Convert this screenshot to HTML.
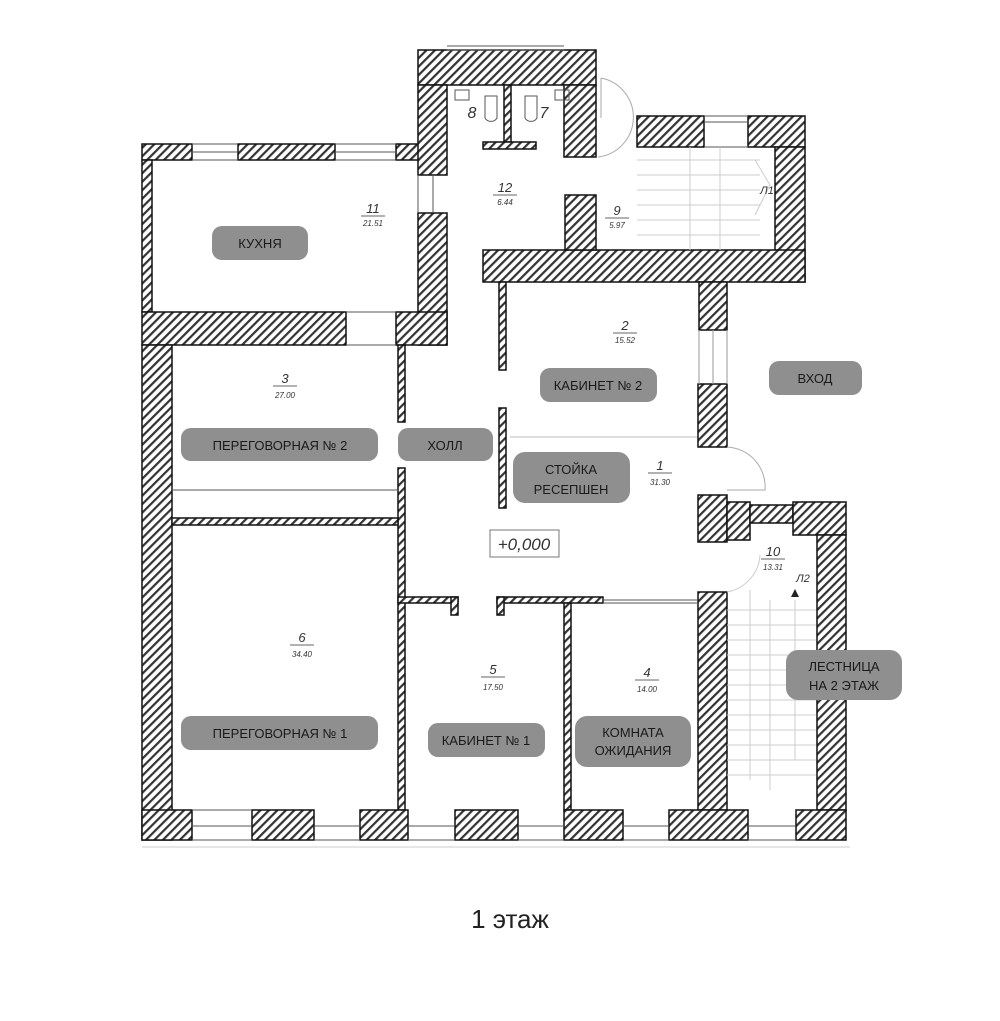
<!DOCTYPE html>
<html><head><meta charset="utf-8"><style>
html,body{margin:0;padding:0;background:#fff;}
svg{display:block;}
.lb{fill:#8f8f8f;}
.t{font-family:"Liberation Sans",sans-serif;fill:#1a1a1a;font-size:13px;text-anchor:middle;}
.n{font-family:"Liberation Sans",sans-serif;fill:#333;font-style:italic;text-anchor:middle;}
</style></head><body>
<svg width="1000" height="1021" viewBox="0 0 1000 1021" xmlns="http://www.w3.org/2000/svg">
<defs>
<pattern id="h" width="6" height="6" patternUnits="userSpaceOnUse" patternTransform="rotate(45)">
<rect width="6" height="6" fill="#fff"/><rect x="0" y="0" width="2.2" height="6" fill="#333"/>
</pattern>
</defs>
<g fill="url(#h)" stroke="#111" stroke-width="1.5">
<rect x="142" y="144" width="50" height="16"/>
<rect x="238" y="144" width="97" height="16"/>
<rect x="396" y="144" width="23" height="16"/>
<rect x="142" y="160" width="10" height="152"/>
<rect x="418" y="50" width="178" height="35"/>
<rect x="418" y="85" width="29" height="90"/>
<rect x="564" y="85" width="32" height="72"/>
<rect x="504" y="85" width="7" height="57"/>
<rect x="483" y="142" width="53" height="7"/>
<rect x="418" y="213" width="29" height="132"/>
<rect x="637" y="116" width="67" height="31"/>
<rect x="748" y="116" width="57" height="31"/>
<rect x="775" y="147" width="30" height="135"/>
<rect x="483" y="250" width="322" height="32"/>
<rect x="565" y="195" width="31" height="55"/>
<rect x="699" y="282" width="28" height="48"/>
<rect x="142" y="312" width="204" height="33"/>
<rect x="396" y="312" width="51" height="33"/>
<rect x="142" y="345" width="30" height="495"/>
<rect x="398" y="345" width="7" height="77"/>
<rect x="398" y="468" width="7" height="342"/>
<rect x="172" y="518" width="226" height="7"/>
<rect x="499" y="282" width="7" height="88"/>
<rect x="499" y="408" width="7" height="100"/>
<rect x="398" y="597" width="60" height="6"/>
<rect x="451" y="597" width="7" height="18"/>
<rect x="497" y="597" width="106" height="6"/>
<rect x="497" y="597" width="7" height="18"/>
<rect x="564" y="603" width="7" height="207"/>
<rect x="698" y="384" width="29" height="63"/>
<rect x="698" y="495" width="29" height="47"/>
<rect x="727" y="502" width="23" height="38"/>
<rect x="750" y="505" width="43" height="18"/>
<rect x="793" y="502" width="53" height="33"/>
<rect x="817" y="535" width="29" height="275"/>
<rect x="698" y="592" width="29" height="218"/>
<rect x="142" y="810" width="50" height="30"/>
<rect x="252" y="810" width="62" height="30"/>
<rect x="360" y="810" width="48" height="30"/>
<rect x="455" y="810" width="63" height="30"/>
<rect x="564" y="810" width="59" height="30"/>
<rect x="669" y="810" width="79" height="30"/>
<rect x="796" y="810" width="50" height="30"/>
</g>
<g fill="none" stroke="#555" stroke-width="1">
<path d="M192 144H238M192 152H238M192 160H238M335 144H396M335 152H396M335 160H396"/>
<path d="M447 50H564M447 46H564"/>
<path d="M704 116H748M704 122H748M704 147H748"/>
<path d="M346 312H396M346 345H396"/>
<path d="M192 810H252M192 826H252M192 840H252M314 826H360M314 840H360M408 826H455M408 840H455M518 826H564M518 840H564M623 826H669M623 840H669M748 826H796M748 840H796"/>
<path d="M142 847H850" stroke="#ccc"/>
<path d="M699 330V384M727 330V384M713 330V384" stroke="#999"/>
<path d="M603 600H698M603 603H698"/>
<path d="M172 490H398"/>
<path d="M510 437H697" stroke="#bbb"/>
<path d="M418 175V213M433 175V213"/>
<path d="M601 78V118M601 78A40 40 0 0 1 598 157" stroke="#aaa"/>
<path d="M727 447A40 40 0 0 1 765 490H727" stroke="#aaa"/>
<path d="M727 592A40 40 0 0 0 760 555" stroke="#ccc"/>
<g stroke="#ccc">
<path d="M637 160H760M637 175H760M637 190H760M637 205H760M637 220H760M637 235H760M690 147V250M720 147V250M755 160L770 185L755 215"/>
<path d="M727 610H816M727 625H816M727 640H816M727 655H816M727 670H816M727 685H816M727 700H816M727 715H816M727 730H816M727 745H816M727 760H816M727 775H816M750 590V780M770 600V790M795 600V760"/>
</g>
<rect x="455" y="90" width="14" height="10"/><rect x="555" y="90" width="14" height="10"/>
<path d="M485 96V118A7 7 0 0 0 497 118V96Z M525 96V118A7 7 0 0 0 537 118V96Z"/>
</g>
<path d="M795 589L791 597H799Z" fill="#222"/>
<rect x="490" y="530" width="69" height="27" fill="#fff" stroke="#777"/>
<text x="524" y="550" class="n" font-size="17">+0,000</text>
<rect class="lb" x="212" y="226" width="96" height="34" rx="10"/><text class="t" x="260" y="248">КУХНЯ</text>
<rect class="lb" x="540" y="368" width="117" height="34" rx="10"/><text class="t" x="598" y="390">КАБИНЕТ № 2</text>
<rect class="lb" x="769" y="361" width="93" height="34" rx="10"/><text class="t" x="815" y="383">ВХОД</text>
<rect class="lb" x="181" y="428" width="197" height="33" rx="10"/><text class="t" x="280" y="450">ПЕРЕГОВОРНАЯ № 2</text>
<rect class="lb" x="398" y="428" width="95" height="33" rx="10"/><text class="t" x="445" y="450">ХОЛЛ</text>
<rect class="lb" x="513" y="452" width="117" height="51" rx="12"/><text class="t" x="571" y="474">СТОЙКА</text><text class="t" x="571" y="494">РЕСЕПШЕН</text>
<rect class="lb" x="181" y="716" width="197" height="34" rx="10"/><text class="t" x="280" y="738">ПЕРЕГОВОРНАЯ № 1</text>
<rect class="lb" x="428" y="723" width="117" height="34" rx="10"/><text class="t" x="486" y="745">КАБИНЕТ № 1</text>
<rect class="lb" x="575" y="716" width="116" height="51" rx="12"/><text class="t" x="633" y="737">КОМНАТА</text><text class="t" x="633" y="755">ОЖИДАНИЯ</text>
<rect class="lb" x="786" y="650" width="116" height="50" rx="12"/><text class="t" x="844" y="671">ЛЕСТНИЦА</text><text class="t" x="844" y="690">НА 2 ЭТАЖ</text>
<g class="n" font-size="13">
<text x="373" y="213">11</text><text x="505" y="192">12</text><text x="617" y="215">9</text><text x="625" y="330">2</text>
<text x="285" y="383">3</text><text x="660" y="470">1</text><text x="773" y="556">10</text><text x="302" y="642">6</text>
<text x="493" y="674">5</text><text x="647" y="677">4</text>
<text x="472" y="118" font-size="16">8</text><text x="544" y="118" font-size="16">7</text>
<text x="767" y="194" font-size="11">Л1</text><text x="803" y="582" font-size="11">Л2</text>
</g>
<g stroke="#333" stroke-width="0.8">
<path d="M361 216H385M493 195H517M605 218H629M613 333H637M273 386H297M648 473H672M761 559H785M290 645H314M481 677H505M635 680H659"/>
</g>
<g class="n" font-size="8">
<text x="373" y="226">21.51</text><text x="505" y="205">6.44</text><text x="617" y="228">5.97</text><text x="625" y="343">15.52</text>
<text x="285" y="398">27.00</text><text x="660" y="485">31.30</text><text x="773" y="570">13.31</text><text x="302" y="657">34.40</text>
<text x="493" y="690">17.50</text><text x="647" y="692">14.00</text>
</g>
<text x="510" y="928" font-family="Liberation Sans,sans-serif" font-size="26" text-anchor="middle" fill="#222">1 этаж</text>
</svg>
</body></html>
